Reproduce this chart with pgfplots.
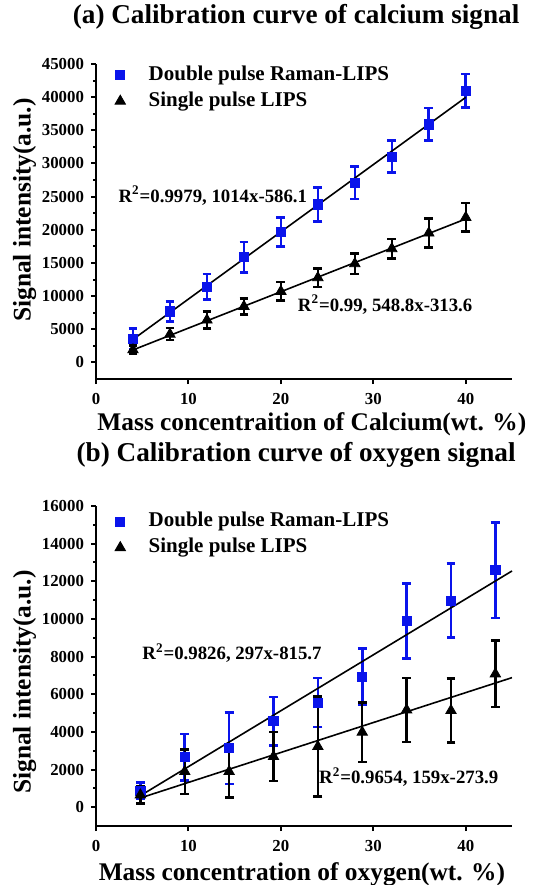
\documentclass[border=0pt]{standalone}
\usepackage{pgfplots}
\pgfplotsset{compat=1.18}
\usepackage{fontspec}
\setmainfont{Liberation Serif}
\definecolor{dblue}{RGB}{10,20,235}

\pgfplotstableread{
x y e
4 3590 1550
8 7700 1500
12 11400 1950
16 15870 2300
20 19660 2200
24 23830 2550
28 27100 2450
32 31050 2400
36 35900 2450
40 40970 2500
}\caBlue
\pgfplotstableread{
x y e
4 1900 650
8 4250 900
12 6390 1300
16 8450 1200
20 10710 1400
24 12780 1400
28 14890 1550
32 17150 1500
36 19510 2200
40 21870 2150
}\caBlack
\pgfplotstableread{
x y e
4.8 885 420
9.6 2655 1240
14.4 3133 1900
19.2 4566 1280
24 5558 1300
28.8 6938 1500
33.6 9890 2000
38.4 10980 1970
43.2 12590 2540
}\oxBlue
\pgfplotstableread{
x y e
4.8 650 450
9.6 1894 1180
14.4 1894 1380
19.2 2690 1310
24 3221 2650
28.8 3982 1590
33.6 5168 1700
38.4 5133 1700
43.2 7080 1770
}\oxBlack

\tikzset{ann/.style={font=\bfseries\fontsize{9.4}{11}\selectfont, anchor=base west, inner sep=0pt}}
\newcommand\tlfont{\bfseries\fontsize{8.4}{9}\selectfont}
\pgfplotsset{
  myax/.style={
    scale only axis, width=208pt,
    xmin=0, xmax=45,
    axis lines*=left,
    axis line style={line width=1pt},
    tick style={line width=1pt, black},
    tick align=outside,
    major tick length=2.5pt, minor tick length=1.4pt,
    xtick={0,10,20,30,40},
    minor y tick num=1,
    scaled y ticks=false,
    /pgf/number format/1000 sep={},
    /pgf/number format/assume math mode=true,
    xticklabel={\tlfont\pgfmathprintnumber[assume math mode=true]{\tick}},
    yticklabel={\tlfont\pgfmathprintnumber[assume math mode=true]{\tick}},
    xticklabel style={yshift=-1pt},
    label style={font=\bfseries\fontsize{12.7}{14}\selectfont},
    title style={font=\bfseries\fontsize{13.6}{15}\selectfont, anchor=base},
    legend image code/.code={\path (-3pt,0pt) (12.5pt,0pt); \draw[##1] plot coordinates {(0pt,0pt)};},
    legend style={draw=none, fill=none, inner sep=0pt,
      font=\bfseries\fontsize{10.5}{12}\selectfont,
      nodes={inner sep=1.5pt, text height=7pt, text depth=2pt, anchor=west},
      row sep=1pt, legend cell align=left},
    clip=false,
  },
  bl/.style={only marks, mark=square*, mark size=2.3pt, color=dblue,
    mark options={fill=dblue, draw=dblue},
    error bars/.cd, y dir=both, y explicit,
    error bar style={line width=1.3pt, dblue},
    error mark options={rotate=90, mark size=2.2pt, line width=1.3pt, dblue}},
  bk/.style={only marks, mark=triangle*, mark size=3pt, color=black,
    mark options={fill=black, draw=black},
    error bars/.cd, y dir=both, y explicit,
    error bar style={line width=1.2pt, black},
    error mark options={rotate=90, mark size=2.2pt, line width=1.2pt, black}},
}

\begin{document}
\begin{tikzpicture}
\path[use as bounding box] (0,0) rectangle (274.5pt,-442.5pt);

\begin{axis}[myax, at={(48pt,-189.5pt)}, anchor=south west, height=157.5pt,
  ymin=-2500, ymax=45000, ytick={0,5000,...,45000},
  title={(a) Calibration curve of calcium signal},
  title style={at={(rel axis cs:0.481,1.092)}},
  xlabel={Mass concentraition of Calcium(wt. \%)},
  xlabel style={at={(rel axis cs:0.519,-0.162)}, anchor=base},
  ylabel={Signal intensity(a.u.)},
  ylabel style={at={(rel axis cs:-0.157,0.5365)}, anchor=base},
  legend style={at={(rel axis cs:0.042,1.004)}, anchor=north west}]
\addplot[bl] table[x=x, y=y, y error=e]{\caBlue};
\addlegendentry{Double pulse Raman-LIPS}
\addplot[bk] table[x=x, y=y, y error=e]{\caBlack};
\addlegendentry{Single pulse LIPS}
\addplot[black, line width=0.8pt, forget plot] coordinates {(4,3470) (40,39974)};
\addplot[black, line width=0.8pt, forget plot] coordinates {(4,1882) (40,21638)};
\node[ann] at (axis cs:2.4,24190) {R\textsuperscript{2}=0.9979, 1014x-586.1};
\node[ann] at (axis cs:21.8,7660) {R\textsuperscript{2}=0.99, 548.8x-313.6};
\end{axis}

\begin{axis}[myax, at={(48pt,-413pt)}, anchor=south west, height=160pt,
  ymin=-1000, ymax=16000, ytick={0,2000,...,16000},
  title={(b) Calibration curve of oxygen signal},
  title style={at={(rel axis cs:0.481,1.103)}},
  xlabel={Mass concentration of oxygen(wt. \%)},
  xlabel style={at={(rel axis cs:0.495,-0.169)}, anchor=base},
  ylabel={Signal intensity(a.u.)},
  ylabel style={at={(rel axis cs:-0.157,0.45)}, anchor=base},
  legend style={at={(rel axis cs:0.042,0.99)}, anchor=north west}]
\addplot[bl] table[x=x, y=y, y error=e]{\oxBlue};
\addlegendentry{Double pulse Raman-LIPS}
\addplot[bk] table[x=x, y=y, y error=e]{\oxBlack};
\addlegendentry{Single pulse LIPS}
\addplot[black, line width=0.8pt, forget plot] coordinates {(4.8,610) (45,12549)};
\addplot[black, line width=0.8pt, forget plot] coordinates {(4.8,489) (45,6882)};
\node[ann] at (axis cs:4.98,7823) {R\textsuperscript{2}=0.9826, 297x-815.7};
\node[ann] at (axis cs:24.1,1239) {R\textsuperscript{2}=0.9654, 159x-273.9};
\end{axis}
\end{tikzpicture}
\end{document}
